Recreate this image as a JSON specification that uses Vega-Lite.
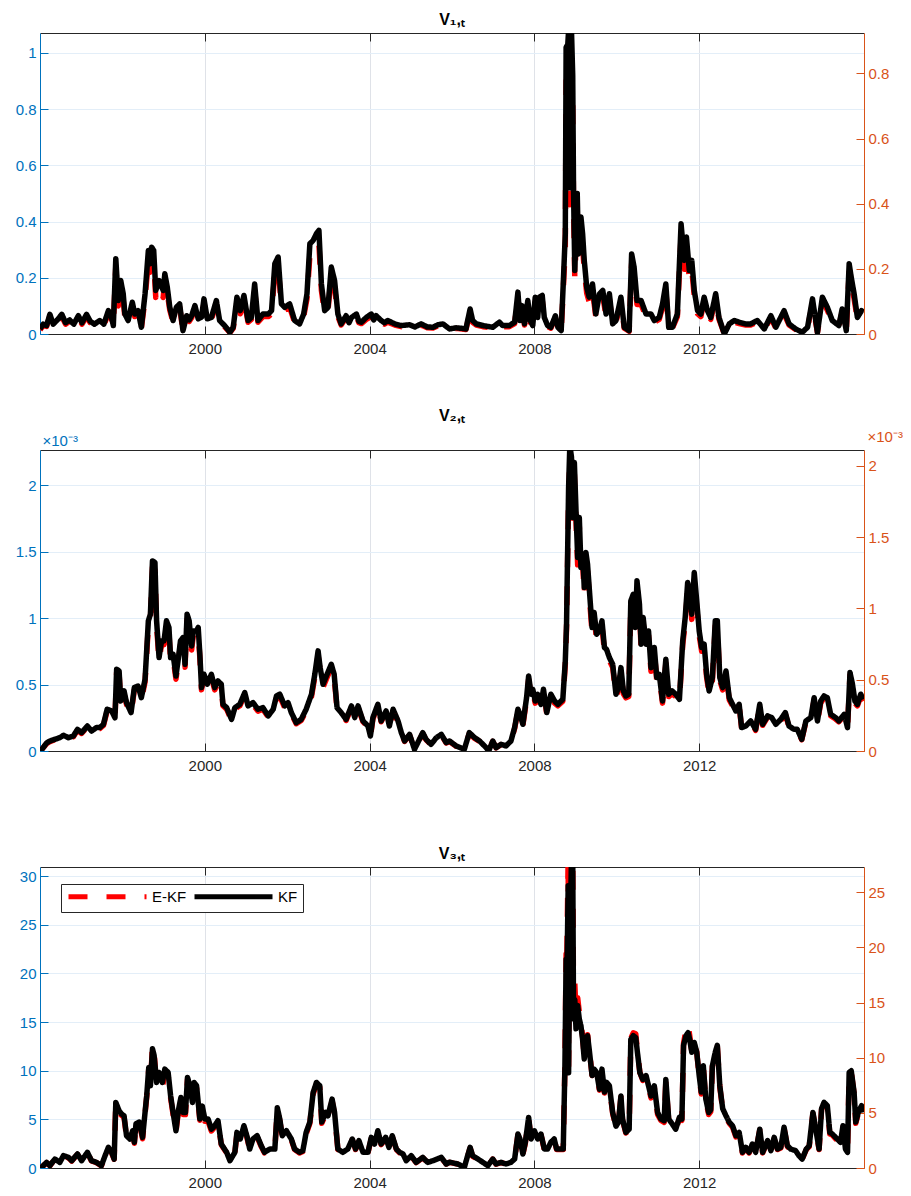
{
  "$schema": "https://vega.github.io/schema/vega-lite/v6.json",
  "autosize": {"type": "pad"},
  "padding": {"left": 15, "top": 11, "right": 0, "bottom": 0},
  "background": "white",
  "bounds": "flush",
  "spacing": 116,
  "config": {
    "font": "Liberation Sans",
    "view": {"stroke": null},
    "title": {"font": "Liberation Sans", "fontSize": 16, "fontWeight": "bold", "color": "#000000", "offset": 5, "anchor": "middle"},
    "axis": {"labelFont": "Liberation Sans", "labelFontSize": 15, "tickSize": -8, "tickWidth": 1, "domainWidth": 1, "labelPadding": 12, "titleFont": "Liberation Sans", "titleFontWeight": "normal", "titleFontSize": 15},
    "legend": {"labelFont": "Liberation Sans"}
  },
  "datasets": {
    "p1": [
      {"t":1996.00,"kf":0.018,"ekf":0.015},{"t":1996.08,"kf":0.035,"ekf":0.03},{"t":1996.16,"kf":0.03,"ekf":0.027},{"t":1996.24,"kf":0.07,"ekf":0.064},{"t":1996.32,"kf":0.035,"ekf":0.03},{"t":1996.42,"kf":0.05,"ekf":0.045},{"t":1996.53,"kf":0.07,"ekf":0.062},{"t":1996.62,"kf":0.04,"ekf":0.035},{"t":1996.72,"kf":0.05,"ekf":0.045},{"t":1996.82,"kf":0.035,"ekf":0.03},{"t":1996.93,"kf":0.065,"ekf":0.058},{"t":1997.02,"kf":0.04,"ekf":0.035},{"t":1997.13,"kf":0.07,"ekf":0.062},{"t":1997.22,"kf":0.045,"ekf":0.04},{"t":1997.32,"kf":0.035,"ekf":0.03},{"t":1997.45,"kf":0.048,"ekf":0.042},{"t":1997.55,"kf":0.035,"ekf":0.03},{"t":1997.66,"kf":0.083,"ekf":0.075},{"t":1997.72,"kf":0.07,"ekf":0.06},{"t":1997.78,"kf":0.03,"ekf":0.026},{"t":1997.84,"kf":0.268,"ekf":0.24},{"t":1997.90,"kf":0.119,"ekf":0.1},{"t":1997.96,"kf":0.19,"ekf":0.165},{"t":1998.02,"kf":0.143,"ekf":0.12},{"t":1998.06,"kf":0.071,"ekf":0.06},{"t":1998.14,"kf":0.048,"ekf":0.04},{"t":1998.24,"kf":0.113,"ekf":0.1},{"t":1998.30,"kf":0.071,"ekf":0.062},{"t":1998.38,"kf":0.083,"ekf":0.072},{"t":1998.46,"kf":0.024,"ekf":0.02},{"t":1998.55,"kf":0.143,"ekf":0.125},{"t":1998.63,"kf":0.297,"ekf":0.26},{"t":1998.67,"kf":0.25,"ekf":0.22},{"t":1998.71,"kf":0.309,"ekf":0.27},{"t":1998.76,"kf":0.297,"ekf":0.26},{"t":1998.81,"kf":0.155,"ekf":0.13},{"t":1998.89,"kf":0.19,"ekf":0.165},{"t":1998.99,"kf":0.155,"ekf":0.13},{"t":1999.03,"kf":0.214,"ekf":0.19},{"t":1999.09,"kf":0.166,"ekf":0.145},{"t":1999.15,"kf":0.095,"ekf":0.085},{"t":1999.23,"kf":0.048,"ekf":0.042},{"t":1999.31,"kf":0.095,"ekf":0.085},{"t":1999.39,"kf":0.107,"ekf":0.095},{"t":1999.47,"kf":0.012,"ekf":0.01},{"t":1999.56,"kf":0.065,"ekf":0.058},{"t":1999.62,"kf":0.05,"ekf":0.045},{"t":1999.68,"kf":0.065,"ekf":0.058},{"t":1999.76,"kf":0.101,"ekf":0.09},{"t":1999.84,"kf":0.054,"ekf":0.048},{"t":1999.92,"kf":0.06,"ekf":0.054},{"t":1999.98,"kf":0.125,"ekf":0.11},{"t":2000.06,"kf":0.054,"ekf":0.048},{"t":2000.16,"kf":0.059,"ekf":0.052},{"t":2000.28,"kf":0.119,"ekf":0.105},{"t":2000.36,"kf":0.048,"ekf":0.042},{"t":2000.48,"kf":0.03,"ekf":0.026},{"t":2000.61,"kf":0.006,"ekf":0.005},{"t":2000.69,"kf":0.024,"ekf":0.02},{"t":2000.78,"kf":0.131,"ekf":0.115},{"t":2000.86,"kf":0.083,"ekf":0.072},{"t":2000.95,"kf":0.137,"ekf":0.12},{"t":2001.05,"kf":0.048,"ekf":0.042},{"t":2001.13,"kf":0.059,"ekf":0.052},{"t":2001.21,"kf":0.178,"ekf":0.155},{"t":2001.29,"kf":0.048,"ekf":0.042},{"t":2001.41,"kf":0.071,"ekf":0.062},{"t":2001.54,"kf":0.071,"ekf":0.062},{"t":2001.62,"kf":0.083,"ekf":0.072},{"t":2001.70,"kf":0.25,"ekf":0.22},{"t":2001.78,"kf":0.274,"ekf":0.24},{"t":2001.86,"kf":0.107,"ekf":0.095},{"t":2001.94,"kf":0.095,"ekf":0.085},{"t":2002.06,"kf":0.107,"ekf":0.095},{"t":2002.18,"kf":0.048,"ekf":0.042},{"t":2002.30,"kf":0.036,"ekf":0.032},{"t":2002.40,"kf":0.071,"ekf":0.062},{"t":2002.48,"kf":0.143,"ekf":0.125},{"t":2002.55,"kf":0.321,"ekf":0.28},{"t":2002.63,"kf":0.333,"ekf":0.29},{"t":2002.71,"kf":0.357,"ekf":0.31},{"t":2002.77,"kf":0.369,"ekf":0.32},{"t":2002.83,"kf":0.178,"ekf":0.155},{"t":2002.91,"kf":0.083,"ekf":0.072},{"t":2002.99,"kf":0.095,"ekf":0.085},{"t":2003.07,"kf":0.238,"ekf":0.21},{"t":2003.15,"kf":0.19,"ekf":0.165},{"t":2003.23,"kf":0.071,"ekf":0.062},{"t":2003.31,"kf":0.036,"ekf":0.032},{"t":2003.43,"kf":0.065,"ekf":0.058},{"t":2003.50,"kf":0.04,"ekf":0.035},{"t":2003.56,"kf":0.059,"ekf":0.052},{"t":2003.68,"kf":0.071,"ekf":0.062},{"t":2003.74,"kf":0.045,"ekf":0.04},{"t":2003.80,"kf":0.042,"ekf":0.037},{"t":2003.92,"kf":0.059,"ekf":0.052},{"t":2004.04,"kf":0.071,"ekf":0.062},{"t":2004.10,"kf":0.05,"ekf":0.045},{"t":2004.16,"kf":0.065,"ekf":0.058},{"t":2004.28,"kf":0.048,"ekf":0.042},{"t":2004.36,"kf":0.04,"ekf":0.035},{"t":2004.44,"kf":0.048,"ekf":0.042},{"t":2004.61,"kf":0.036,"ekf":0.032},{"t":2004.77,"kf":0.03,"ekf":0.026},{"t":2004.97,"kf":0.033,"ekf":0.029},{"t":2005.10,"kf":0.025,"ekf":0.022},{"t":2005.25,"kf":0.036,"ekf":0.032},{"t":2005.40,"kf":0.025,"ekf":0.022},{"t":2005.54,"kf":0.024,"ekf":0.021},{"t":2005.66,"kf":0.033,"ekf":0.029},{"t":2005.78,"kf":0.036,"ekf":0.032},{"t":2005.94,"kf":0.018,"ekf":0.016},
      {"t":2006.10,"kf":0.022,"ekf":0.02},{"t":2006.25,"kf":0.02,"ekf":0.018},{"t":2006.34,"kf":0.018,"ekf":0.016},{"t":2006.38,"kf":0.048,"ekf":0.042},{"t":2006.44,"kf":0.089,"ekf":0.08},{"t":2006.50,"kf":0.048,"ekf":0.042},{"t":2006.59,"kf":0.036,"ekf":0.032},{"t":2006.75,"kf":0.03,"ekf":0.026},{"t":2006.99,"kf":0.024,"ekf":0.021},{"t":2007.15,"kf":0.042,"ekf":0.037},{"t":2007.23,"kf":0.03,"ekf":0.026},{"t":2007.39,"kf":0.03,"ekf":0.026},{"t":2007.52,"kf":0.042,"ekf":0.037},{"t":2007.56,"kf":0.095,"ekf":0.085},{"t":2007.60,"kf":0.149,"ekf":0.13},{"t":2007.65,"kf":0.048,"ekf":0.042},{"t":2007.70,"kf":0.101,"ekf":0.09},{"t":2007.76,"kf":0.036,"ekf":0.032},{"t":2007.84,"kf":0.119,"ekf":0.105},{"t":2007.90,"kf":0.048,"ekf":0.042},{"t":2007.96,"kf":0.03,"ekf":0.026},{"t":2008.02,"kf":0.131,"ekf":0.115},{"t":2008.08,"kf":0.059,"ekf":0.052},{"t":2008.12,"kf":0.131,"ekf":0.115},{"t":2008.19,"kf":0.137,"ekf":0.12},{"t":2008.24,"kf":0.059,"ekf":0.052},{"t":2008.32,"kf":0.03,"ekf":0.026},{"t":2008.40,"kf":0.024,"ekf":0.021},{"t":2008.51,"kf":0.065,"ekf":0.058},{"t":2008.57,"kf":0.024,"ekf":0.021},{"t":2008.65,"kf":0.012,"ekf":0.01},{"t":2008.70,"kf":0.178,"ekf":0.155},{"t":2008.75,"kf":0.357,"ekf":0.31},{"t":2008.77,"kf":1.02,"ekf":0.9},{"t":2008.81,"kf":1.03,"ekf":0.92},{"t":2008.83,"kf":1.08,"ekf":0.95},{"t":2008.86,"kf":0.52,"ekf":0.46},{"t":2008.90,"kf":1.08,"ekf":0.95},{"t":2008.93,"kf":0.92,"ekf":0.82},{"t":2008.95,"kf":0.51,"ekf":0.45},{"t":2008.98,"kf":0.226,"ekf":0.2},{"t":2009.01,"kf":0.357,"ekf":0.31},{"t":2009.04,"kf":0.5,"ekf":0.44},{"t":2009.07,"kf":0.285,"ekf":0.25},{"t":2009.13,"kf":0.416,"ekf":0.37},{"t":2009.17,"kf":0.357,"ekf":0.31},{"t":2009.21,"kf":0.262,"ekf":0.23},{"t":2009.27,"kf":0.166,"ekf":0.145},{"t":2009.33,"kf":0.131,"ekf":0.115},{"t":2009.41,"kf":0.178,"ekf":0.155},{"t":2009.49,"kf":0.071,"ekf":0.062},{"t":2009.58,"kf":0.143,"ekf":0.125},{"t":2009.66,"kf":0.155,"ekf":0.135},{"t":2009.74,"kf":0.071,"ekf":0.062},{"t":2009.82,"kf":0.143,"ekf":0.125},{"t":2009.90,"kf":0.036,"ekf":0.032},{"t":2009.98,"kf":0.048,"ekf":0.042},{"t":2010.10,"kf":0.131,"ekf":0.115},{"t":2010.18,"kf":0.024,"ekf":0.021},{"t":2010.30,"kf":0.012,"ekf":0.01},{"t":2010.36,"kf":0.285,"ekf":0.25},{"t":2010.42,"kf":0.238,"ekf":0.21},{"t":2010.49,"kf":0.119,"ekf":0.105},{"t":2010.59,"kf":0.119,"ekf":0.105},{"t":2010.71,"kf":0.071,"ekf":0.062},{"t":2010.83,"kf":0.071,"ekf":0.062},{"t":2010.91,"kf":0.048,"ekf":0.042},{"t":2011.03,"kf":0.059,"ekf":0.052},{"t":2011.11,"kf":0.107,"ekf":0.095},{"t":2011.19,"kf":0.178,"ekf":0.155},{"t":2011.26,"kf":0.024,"ekf":0.021},{"t":2011.35,"kf":0.024,"ekf":0.021},{"t":2011.47,"kf":0.071,"ekf":0.062},{"t":2011.56,"kf":0.392,"ekf":0.35},{"t":2011.64,"kf":0.262,"ekf":0.23},{"t":2011.69,"kf":0.345,"ekf":0.3},{"t":2011.76,"kf":0.226,"ekf":0.2},{"t":2011.82,"kf":0.262,"ekf":0.23},{"t":2011.88,"kf":0.155,"ekf":0.135},{"t":2011.96,"kf":0.083,"ekf":0.072},{"t":2012.04,"kf":0.071,"ekf":0.062},{"t":2012.12,"kf":0.131,"ekf":0.115},{"t":2012.20,"kf":0.083,"ekf":0.072},{"t":2012.28,"kf":0.059,"ekf":0.052},{"t":2012.40,"kf":0.143,"ekf":0.125},{"t":2012.48,"kf":0.059,"ekf":0.052},{"t":2012.61,"kf":0.0,"ekf":0.0},{"t":2012.73,"kf":0.036,"ekf":0.032},{"t":2012.85,"kf":0.048,"ekf":0.042},{"t":2012.97,"kf":0.042,"ekf":0.037},{"t":2013.13,"kf":0.036,"ekf":0.032},{"t":2013.25,"kf":0.036,"ekf":0.032},{"t":2013.41,"kf":0.048,"ekf":0.042},{"t":2013.58,"kf":0.018,"ekf":0.016},{"t":2013.74,"kf":0.065,"ekf":0.058},{"t":2013.86,"kf":0.024,"ekf":0.021},{"t":2014.06,"kf":0.083,"ekf":0.072},{"t":2014.18,"kf":0.036,"ekf":0.032},{"t":2014.34,"kf":0.018,"ekf":0.016},{"t":2014.50,"kf":0.006,"ekf":0.005},{"t":2014.63,"kf":0.024,"ekf":0.021},{"t":2014.75,"kf":0.125,"ekf":0.11},{"t":2014.87,"kf":0.006,"ekf":0.005},{"t":2014.99,"kf":0.131,"ekf":0.115},{"t":2015.11,"kf":0.095,"ekf":0.085},{"t":2015.23,"kf":0.048,"ekf":0.042},{"t":2015.39,"kf":0.03,"ekf":0.026},{"t":2015.47,"kf":0.089,"ekf":0.08},{"t":2015.57,"kf":0.012,"ekf":0.01},{"t":2015.64,"kf":0.25,"ekf":0.22},{"t":2015.69,"kf":0.202,"ekf":0.18},{"t":2015.76,"kf":0.143,"ekf":0.125},{"t":2015.84,"kf":0.059,"ekf":0.052},{"t":2015.94,"kf":0.083,"ekf":0.072},{"t":2015.98,"kf":0.077,"ekf":0.068}
    ],
    "p2": [
      {"t":1996.00,"kf":0.02e-3,"ekf":0.02e-3},{"t":1996.04,"kf":0.01e-3,"ekf":0.01e-3},{"t":1996.16,"kf":0.06e-3,"ekf":0.055e-3},{"t":1996.24,"kf":0.075e-3,"ekf":0.07e-3},{"t":1996.36,"kf":0.088e-3,"ekf":0.085e-3},{"t":1996.48,"kf":0.1e-3,"ekf":0.095e-3},{"t":1996.57,"kf":0.118e-3,"ekf":0.112e-3},{"t":1996.69,"kf":0.1e-3,"ekf":0.095e-3},{"t":1996.81,"kf":0.113e-3,"ekf":0.108e-3},{"t":1996.91,"kf":0.163e-3,"ekf":0.156e-3},{"t":1997.01,"kf":0.138e-3,"ekf":0.132e-3},{"t":1997.15,"kf":0.188e-3,"ekf":0.18e-3},{"t":1997.25,"kf":0.15e-3,"ekf":0.144e-3},{"t":1997.37,"kf":0.176e-3,"ekf":0.169e-3},{"t":1997.45,"kf":0.176e-3,"ekf":0.169e-3},{"t":1997.54,"kf":0.2e-3,"ekf":0.192e-3},{"t":1997.63,"kf":0.314e-3,"ekf":0.3e-3},{"t":1997.74,"kf":0.301e-3,"ekf":0.29e-3},{"t":1997.82,"kf":0.25e-3,"ekf":0.24e-3},{"t":1997.86,"kf":0.615e-3,"ekf":0.59e-3},{"t":1997.92,"kf":0.602e-3,"ekf":0.58e-3},{"t":1997.96,"kf":0.376e-3,"ekf":0.36e-3},{"t":1998.04,"kf":0.452e-3,"ekf":0.43e-3},{"t":1998.10,"kf":0.364e-3,"ekf":0.35e-3},{"t":1998.21,"kf":0.289e-3,"ekf":0.28e-3},{"t":1998.29,"kf":0.477e-3,"ekf":0.46e-3},{"t":1998.38,"kf":0.489e-3,"ekf":0.47e-3},{"t":1998.46,"kf":0.401e-3,"ekf":0.385e-3},{"t":1998.55,"kf":0.539e-3,"ekf":0.52e-3},{"t":1998.63,"kf":0.979e-3,"ekf":0.94e-3},{"t":1998.68,"kf":1.029e-3,"ekf":0.99e-3},{"t":1998.73,"kf":1.43e-3,"ekf":1.38e-3},{"t":1998.79,"kf":1.418e-3,"ekf":1.36e-3},{"t":1998.83,"kf":0.979e-3,"ekf":0.94e-3},{"t":1998.89,"kf":0.703e-3,"ekf":0.68e-3},{"t":1998.95,"kf":0.828e-3,"ekf":0.8e-3},{"t":1999.01,"kf":0.828e-3,"ekf":0.8e-3},{"t":1999.07,"kf":0.979e-3,"ekf":0.94e-3},{"t":1999.13,"kf":0.929e-3,"ekf":0.89e-3},{"t":1999.17,"kf":0.703e-3,"ekf":0.68e-3},{"t":1999.23,"kf":0.728e-3,"ekf":0.7e-3},{"t":1999.30,"kf":0.564e-3,"ekf":0.54e-3},{"t":1999.35,"kf":0.678e-3,"ekf":0.65e-3},{"t":1999.41,"kf":0.828e-3,"ekf":0.8e-3},{"t":1999.47,"kf":0.853e-3,"ekf":0.82e-3},{"t":1999.52,"kf":0.652e-3,"ekf":0.63e-3},{"t":1999.57,"kf":1.029e-3,"ekf":0.99e-3},{"t":1999.62,"kf":0.979e-3,"ekf":0.94e-3},{"t":1999.68,"kf":0.79e-3,"ekf":0.76e-3},{"t":1999.72,"kf":0.903e-3,"ekf":0.87e-3},{"t":1999.80,"kf":0.903e-3,"ekf":0.87e-3},{"t":1999.84,"kf":0.929e-3,"ekf":0.89e-3},{"t":1999.88,"kf":0.728e-3,"ekf":0.7e-3},{"t":1999.92,"kf":0.477e-3,"ekf":0.46e-3},{"t":1999.98,"kf":0.577e-3,"ekf":0.555e-3},{"t":2000.06,"kf":0.502e-3,"ekf":0.48e-3},{"t":2000.16,"kf":0.577e-3,"ekf":0.555e-3},{"t":2000.24,"kf":0.477e-3,"ekf":0.46e-3},{"t":2000.32,"kf":0.527e-3,"ekf":0.505e-3},{"t":2000.40,"kf":0.502e-3,"ekf":0.48e-3},{"t":2000.44,"kf":0.351e-3,"ekf":0.34e-3},{"t":2000.53,"kf":0.326e-3,"ekf":0.315e-3},{"t":2000.65,"kf":0.238e-3,"ekf":0.23e-3},{"t":2000.73,"kf":0.326e-3,"ekf":0.315e-3},{"t":2000.85,"kf":0.351e-3,"ekf":0.34e-3},{"t":2000.97,"kf":0.439e-3,"ekf":0.42e-3},{"t":2001.05,"kf":0.339e-3,"ekf":0.325e-3},{"t":2001.17,"kf":0.364e-3,"ekf":0.35e-3},{"t":2001.29,"kf":0.314e-3,"ekf":0.3e-3},{"t":2001.41,"kf":0.326e-3,"ekf":0.315e-3},{"t":2001.54,"kf":0.264e-3,"ekf":0.255e-3},{"t":2001.66,"kf":0.314e-3,"ekf":0.3e-3},{"t":2001.74,"kf":0.414e-3,"ekf":0.4e-3},{"t":2001.82,"kf":0.427e-3,"ekf":0.41e-3},{"t":2001.94,"kf":0.339e-3,"ekf":0.325e-3},{"t":2002.02,"kf":0.364e-3,"ekf":0.35e-3},{"t":2002.10,"kf":0.289e-3,"ekf":0.28e-3},{"t":2002.22,"kf":0.213e-3,"ekf":0.205e-3},{"t":2002.34,"kf":0.238e-3,"ekf":0.23e-3},{"t":2002.46,"kf":0.314e-3,"ekf":0.3e-3},{"t":2002.59,"kf":0.427e-3,"ekf":0.41e-3},{"t":2002.67,"kf":0.577e-3,"ekf":0.555e-3},{"t":2002.75,"kf":0.753e-3,"ekf":0.72e-3},{"t":2002.80,"kf":0.627e-3,"ekf":0.6e-3},{"t":2002.87,"kf":0.502e-3,"ekf":0.48e-3},{"t":2002.95,"kf":0.564e-3,"ekf":0.54e-3},{"t":2003.07,"kf":0.652e-3,"ekf":0.63e-3},{"t":2003.14,"kf":0.577e-3,"ekf":0.555e-3},{"t":2003.21,"kf":0.326e-3,"ekf":0.315e-3},{"t":2003.31,"kf":0.289e-3,"ekf":0.28e-3},{"t":2003.43,"kf":0.238e-3,"ekf":0.23e-3},{"t":2003.56,"kf":0.339e-3,"ekf":0.325e-3},{"t":2003.64,"kf":0.251e-3,"ekf":0.24e-3},{"t":2003.72,"kf":0.339e-3,"ekf":0.325e-3},{"t":2003.84,"kf":0.226e-3,"ekf":0.22e-3},{"t":2003.96,"kf":0.188e-3,"ekf":0.18e-3},{"t":2004.02,"kf":0.113e-3,"ekf":0.108e-3},{"t":2004.08,"kf":0.251e-3,"ekf":0.24e-3},{"t":2004.20,"kf":0.351e-3,"ekf":0.34e-3},{"t":2004.28,"kf":0.226e-3,"ekf":0.22e-3},{"t":2004.40,"kf":0.301e-3,"ekf":0.29e-3},{"t":2004.48,"kf":0.188e-3,"ekf":0.18e-3},{"t":2004.57,"kf":0.314e-3,"ekf":0.3e-3},{"t":2004.69,"kf":0.226e-3,"ekf":0.22e-3},{"t":2004.77,"kf":0.138e-3,"ekf":0.132e-3},{"t":2004.85,"kf":0.075e-3,"ekf":0.072e-3},{"t":2004.97,"kf":0.125e-3,"ekf":0.12e-3},{"t":2005.09,"kf":0.013e-3,"ekf":0.012e-3},{"t":2005.17,"kf":0.063e-3,"ekf":0.06e-3},{"t":2005.29,"kf":0.138e-3,"ekf":0.132e-3},{"t":2005.37,"kf":0.088e-3,"ekf":0.085e-3},{"t":2005.49,"kf":0.05e-3,"ekf":0.048e-3},{"t":2005.62,"kf":0.1e-3,"ekf":0.095e-3},{"t":2005.74,"kf":0.125e-3,"ekf":0.12e-3},{"t":2005.86,"kf":0.063e-3,"ekf":0.06e-3},{"t":2005.94,"kf":0.075e-3,"ekf":0.072e-3},
      {"t":2006.10,"kf":0.038e-3,"ekf":0.036e-3},{"t":2006.30,"kf":0.013e-3,"ekf":0.012e-3},{"t":2006.42,"kf":0.138e-3,"ekf":0.132e-3},{"t":2006.55,"kf":0.1e-3,"ekf":0.095e-3},{"t":2006.67,"kf":0.075e-3,"ekf":0.072e-3},{"t":2006.83,"kf":0.025e-3,"ekf":0.024e-3},{"t":2006.89,"kf":0.0,"ekf":0.0},{"t":2006.99,"kf":0.075e-3,"ekf":0.072e-3},{"t":2007.07,"kf":0.025e-3,"ekf":0.024e-3},{"t":2007.19,"kf":0.05e-3,"ekf":0.048e-3},{"t":2007.31,"kf":0.038e-3,"ekf":0.036e-3},{"t":2007.43,"kf":0.075e-3,"ekf":0.072e-3},{"t":2007.52,"kf":0.176e-3,"ekf":0.169e-3},{"t":2007.60,"kf":0.314e-3,"ekf":0.3e-3},{"t":2007.65,"kf":0.276e-3,"ekf":0.265e-3},{"t":2007.72,"kf":0.201e-3,"ekf":0.193e-3},{"t":2007.81,"kf":0.401e-3,"ekf":0.385e-3},{"t":2007.86,"kf":0.564e-3,"ekf":0.54e-3},{"t":2007.92,"kf":0.427e-3,"ekf":0.41e-3},{"t":2007.96,"kf":0.464e-3,"ekf":0.445e-3},{"t":2008.02,"kf":0.376e-3,"ekf":0.36e-3},{"t":2008.08,"kf":0.427e-3,"ekf":0.41e-3},{"t":2008.16,"kf":0.351e-3,"ekf":0.34e-3},{"t":2008.22,"kf":0.464e-3,"ekf":0.445e-3},{"t":2008.30,"kf":0.289e-3,"ekf":0.28e-3},{"t":2008.40,"kf":0.427e-3,"ekf":0.41e-3},{"t":2008.49,"kf":0.376e-3,"ekf":0.36e-3},{"t":2008.57,"kf":0.351e-3,"ekf":0.34e-3},{"t":2008.69,"kf":0.389e-3,"ekf":0.375e-3},{"t":2008.75,"kf":0.678e-3,"ekf":0.65e-3},{"t":2008.78,"kf":0.953e-3,"ekf":0.92e-3},{"t":2008.83,"kf":1.98e-3,"ekf":1.9e-3},{"t":2008.86,"kf":2.3e-3,"ekf":2.2e-3},{"t":2008.90,"kf":2.21e-3,"ekf":2.12e-3},{"t":2008.93,"kf":1.756e-3,"ekf":1.69e-3},{"t":2008.97,"kf":2.17e-3,"ekf":2.08e-3},{"t":2009.01,"kf":1.807e-3,"ekf":1.73e-3},{"t":2009.05,"kf":1.456e-3,"ekf":1.4e-3},{"t":2009.09,"kf":1.756e-3,"ekf":1.69e-3},{"t":2009.13,"kf":1.38e-3,"ekf":1.32e-3},{"t":2009.17,"kf":1.481e-3,"ekf":1.42e-3},{"t":2009.21,"kf":1.23e-3,"ekf":1.18e-3},{"t":2009.25,"kf":1.493e-3,"ekf":1.43e-3},{"t":2009.29,"kf":1.405e-3,"ekf":1.35e-3},{"t":2009.33,"kf":1.23e-3,"ekf":1.18e-3},{"t":2009.40,"kf":0.929e-3,"ekf":0.89e-3},{"t":2009.45,"kf":1.041e-3,"ekf":1.0e-3},{"t":2009.51,"kf":0.878e-3,"ekf":0.84e-3},{"t":2009.58,"kf":0.903e-3,"ekf":0.87e-3},{"t":2009.64,"kf":0.979e-3,"ekf":0.94e-3},{"t":2009.70,"kf":0.778e-3,"ekf":0.75e-3},{"t":2009.75,"kf":0.765e-3,"ekf":0.735e-3},{"t":2009.82,"kf":0.703e-3,"ekf":0.68e-3},{"t":2009.90,"kf":0.652e-3,"ekf":0.63e-3},{"t":2009.98,"kf":0.427e-3,"ekf":0.41e-3},{"t":2010.04,"kf":0.477e-3,"ekf":0.46e-3},{"t":2010.10,"kf":0.627e-3,"ekf":0.6e-3},{"t":2010.16,"kf":0.452e-3,"ekf":0.43e-3},{"t":2010.22,"kf":0.414e-3,"ekf":0.4e-3},{"t":2010.29,"kf":0.427e-3,"ekf":0.41e-3},{"t":2010.34,"kf":1.129e-3,"ekf":1.08e-3},{"t":2010.40,"kf":1.179e-3,"ekf":1.13e-3},{"t":2010.45,"kf":0.929e-3,"ekf":0.89e-3},{"t":2010.49,"kf":1.28e-3,"ekf":1.23e-3},{"t":2010.55,"kf":1.104e-3,"ekf":1.06e-3},{"t":2010.59,"kf":0.803e-3,"ekf":0.77e-3},{"t":2010.64,"kf":1.004e-3,"ekf":0.96e-3},{"t":2010.71,"kf":0.803e-3,"ekf":0.77e-3},{"t":2010.77,"kf":0.903e-3,"ekf":0.87e-3},{"t":2010.83,"kf":0.627e-3,"ekf":0.6e-3},{"t":2010.91,"kf":0.778e-3,"ekf":0.75e-3},{"t":2010.97,"kf":0.552e-3,"ekf":0.53e-3},{"t":2011.03,"kf":0.577e-3,"ekf":0.555e-3},{"t":2011.11,"kf":0.376e-3,"ekf":0.36e-3},{"t":2011.19,"kf":0.69e-3,"ekf":0.66e-3},{"t":2011.26,"kf":0.427e-3,"ekf":0.41e-3},{"t":2011.34,"kf":0.452e-3,"ekf":0.43e-3},{"t":2011.43,"kf":0.427e-3,"ekf":0.41e-3},{"t":2011.52,"kf":0.389e-3,"ekf":0.375e-3},{"t":2011.60,"kf":0.828e-3,"ekf":0.8e-3},{"t":2011.66,"kf":1.004e-3,"ekf":0.96e-3},{"t":2011.72,"kf":1.267e-3,"ekf":1.22e-3},{"t":2011.77,"kf":1.205e-3,"ekf":1.16e-3},{"t":2011.82,"kf":1.029e-3,"ekf":0.99e-3},{"t":2011.88,"kf":1.343e-3,"ekf":1.29e-3},{"t":2011.94,"kf":1.129e-3,"ekf":1.08e-3},{"t":2012.00,"kf":0.903e-3,"ekf":0.87e-3},{"t":2012.06,"kf":0.778e-3,"ekf":0.75e-3},{"t":2012.12,"kf":0.803e-3,"ekf":0.77e-3},{"t":2012.18,"kf":0.577e-3,"ekf":0.555e-3},{"t":2012.24,"kf":0.452e-3,"ekf":0.43e-3},{"t":2012.32,"kf":0.552e-3,"ekf":0.53e-3},{"t":2012.39,"kf":0.979e-3,"ekf":0.94e-3},{"t":2012.44,"kf":0.979e-3,"ekf":0.94e-3},{"t":2012.50,"kf":0.552e-3,"ekf":0.53e-3},{"t":2012.57,"kf":0.477e-3,"ekf":0.46e-3},{"t":2012.65,"kf":0.602e-3,"ekf":0.58e-3},{"t":2012.73,"kf":0.401e-3,"ekf":0.385e-3},{"t":2012.81,"kf":0.351e-3,"ekf":0.34e-3},{"t":2012.89,"kf":0.301e-3,"ekf":0.29e-3},{"t":2012.97,"kf":0.351e-3,"ekf":0.34e-3},{"t":2013.03,"kf":0.176e-3,"ekf":0.169e-3},{"t":2013.13,"kf":0.188e-3,"ekf":0.18e-3},{"t":2013.25,"kf":0.226e-3,"ekf":0.22e-3},{"t":2013.37,"kf":0.163e-3,"ekf":0.156e-3},{"t":2013.47,"kf":0.351e-3,"ekf":0.34e-3},{"t":2013.54,"kf":0.201e-3,"ekf":0.193e-3},{"t":2013.66,"kf":0.264e-3,"ekf":0.255e-3},{"t":2013.76,"kf":0.251e-3,"ekf":0.24e-3},{"t":2013.86,"kf":0.201e-3,"ekf":0.193e-3},{"t":2013.98,"kf":0.238e-3,"ekf":0.23e-3},{"t":2014.09,"kf":0.289e-3,"ekf":0.28e-3},{"t":2014.18,"kf":0.188e-3,"ekf":0.18e-3},{"t":2014.30,"kf":0.163e-3,"ekf":0.156e-3},{"t":2014.38,"kf":0.163e-3,"ekf":0.156e-3},{"t":2014.49,"kf":0.088e-3,"ekf":0.085e-3},{"t":2014.59,"kf":0.226e-3,"ekf":0.22e-3},{"t":2014.71,"kf":0.251e-3,"ekf":0.24e-3},{"t":2014.79,"kf":0.401e-3,"ekf":0.385e-3},{"t":2014.87,"kf":0.226e-3,"ekf":0.22e-3},{"t":2014.95,"kf":0.376e-3,"ekf":0.36e-3},{"t":2015.03,"kf":0.414e-3,"ekf":0.4e-3},{"t":2015.11,"kf":0.401e-3,"ekf":0.385e-3},{"t":2015.19,"kf":0.276e-3,"ekf":0.265e-3},{"t":2015.31,"kf":0.251e-3,"ekf":0.24e-3},{"t":2015.39,"kf":0.226e-3,"ekf":0.22e-3},{"t":2015.52,"kf":0.276e-3,"ekf":0.265e-3},{"t":2015.60,"kf":0.176e-3,"ekf":0.169e-3},{"t":2015.66,"kf":0.59e-3,"ekf":0.57e-3},{"t":2015.72,"kf":0.502e-3,"ekf":0.48e-3},{"t":2015.78,"kf":0.376e-3,"ekf":0.36e-3},{"t":2015.84,"kf":0.351e-3,"ekf":0.34e-3},{"t":2015.92,"kf":0.427e-3,"ekf":0.41e-3},{"t":2015.98,"kf":0.389e-3,"ekf":0.375e-3}
    ],
    "p3": [
      {"t":1996.00,"kf":0.2,"ekf":0.2},{"t":1996.04,"kf":0.07,"ekf":0.07},{"t":1996.16,"kf":0.58,"ekf":0.55},{"t":1996.24,"kf":0.24,"ekf":0.22},{"t":1996.36,"kf":0.92,"ekf":0.9},{"t":1996.48,"kf":0.58,"ekf":0.55},{"t":1996.57,"kf":1.27,"ekf":1.2},{"t":1996.69,"kf":1.09,"ekf":1.05},{"t":1996.77,"kf":0.75,"ekf":0.72},{"t":1996.91,"kf":1.44,"ekf":1.4},{"t":1997.01,"kf":0.75,"ekf":0.72},{"t":1997.15,"kf":1.61,"ekf":1.55},{"t":1997.25,"kf":0.75,"ekf":0.72},{"t":1997.37,"kf":0.58,"ekf":0.55},{"t":1997.49,"kf":0.24,"ekf":0.22},{"t":1997.58,"kf":1.27,"ekf":1.2},{"t":1997.66,"kf":2.12,"ekf":2.05},{"t":1997.74,"kf":1.61,"ekf":1.55},{"t":1997.80,"kf":0.92,"ekf":0.9},{"t":1997.84,"kf":6.74,"ekf":6.6},{"t":1997.92,"kf":5.88,"ekf":5.7},{"t":1997.98,"kf":5.54,"ekf":5.4},{"t":1998.04,"kf":5.37,"ekf":5.2},{"t":1998.10,"kf":3.32,"ekf":3.2},{"t":1998.18,"kf":2.98,"ekf":2.9},{"t":1998.25,"kf":3.83,"ekf":3.7},{"t":1998.29,"kf":2.64,"ekf":2.55},{"t":1998.33,"kf":4.55,"ekf":4.4},{"t":1998.41,"kf":4.72,"ekf":4.6},{"t":1998.49,"kf":3.15,"ekf":3.0},{"t":1998.59,"kf":7.42,"ekf":7.3},{"t":1998.64,"kf":10.33,"ekf":10.2},{"t":1998.68,"kf":8.45,"ekf":8.4},{"t":1998.73,"kf":12.25,"ekf":12.6},{"t":1998.77,"kf":11.56,"ekf":11.8},{"t":1998.83,"kf":8.79,"ekf":8.5},{"t":1998.89,"kf":9.82,"ekf":8.4},{"t":1998.97,"kf":8.79,"ekf":8.2},{"t":1999.03,"kf":10.16,"ekf":9.8},{"t":1999.11,"kf":9.82,"ekf":9.5},{"t":1999.17,"kf":7.42,"ekf":7.2},{"t":1999.23,"kf":5.71,"ekf":5.5},{"t":1999.30,"kf":3.83,"ekf":3.7},{"t":1999.35,"kf":5.71,"ekf":5.5},{"t":1999.42,"kf":7.25,"ekf":7.0},{"t":1999.47,"kf":5.71,"ekf":5.5},{"t":1999.53,"kf":5.71,"ekf":5.5},{"t":1999.58,"kf":9.3,"ekf":9.1},{"t":1999.64,"kf":8.45,"ekf":8.2},{"t":1999.70,"kf":6.74,"ekf":6.6},{"t":1999.74,"kf":8.79,"ekf":8.6},{"t":1999.80,"kf":8.45,"ekf":8.2},{"t":1999.84,"kf":6.74,"ekf":6.6},{"t":1999.88,"kf":5.03,"ekf":4.9},{"t":1999.94,"kf":6.36,"ekf":6.2},{"t":2000.00,"kf":5.03,"ekf":4.8},{"t":2000.08,"kf":5.03,"ekf":4.8},{"t":2000.16,"kf":3.99,"ekf":3.8},{"t":2000.24,"kf":4.34,"ekf":4.2},{"t":2000.32,"kf":4.86,"ekf":4.7},{"t":2000.40,"kf":2.46,"ekf":2.4},{"t":2000.53,"kf":1.61,"ekf":1.55},{"t":2000.61,"kf":0.75,"ekf":0.72},{"t":2000.73,"kf":1.61,"ekf":1.55},{"t":2000.78,"kf":3.66,"ekf":3.5},{"t":2000.86,"kf":2.98,"ekf":2.9},{"t":2000.95,"kf":4.34,"ekf":4.2},{"t":2001.03,"kf":3.15,"ekf":3.0},{"t":2001.09,"kf":1.95,"ekf":1.9},{"t":2001.17,"kf":2.98,"ekf":2.9},{"t":2001.27,"kf":3.32,"ekf":3.2},{"t":2001.37,"kf":2.29,"ekf":2.2},{"t":2001.45,"kf":1.61,"ekf":1.55},{"t":2001.58,"kf":1.95,"ekf":1.9},{"t":2001.70,"kf":1.95,"ekf":1.9},{"t":2001.76,"kf":6.19,"ekf":6.0},{"t":2001.82,"kf":5.03,"ekf":4.9},{"t":2001.88,"kf":3.32,"ekf":3.2},{"t":2001.98,"kf":3.83,"ekf":3.7},{"t":2002.10,"kf":2.98,"ekf":2.9},{"t":2002.18,"kf":1.95,"ekf":1.9},{"t":2002.30,"kf":1.61,"ekf":1.55},{"t":2002.38,"kf":1.78,"ekf":1.7},{"t":2002.46,"kf":3.66,"ekf":3.5},{"t":2002.55,"kf":4.72,"ekf":4.6},{"t":2002.63,"kf":7.76,"ekf":7.6},{"t":2002.71,"kf":8.79,"ekf":8.6},{"t":2002.79,"kf":8.45,"ekf":8.3},{"t":2002.84,"kf":4.72,"ekf":4.6},{"t":2002.93,"kf":5.71,"ekf":5.5},{"t":2002.99,"kf":5.37,"ekf":5.2},{"t":2003.09,"kf":7.08,"ekf":6.9},{"t":2003.15,"kf":5.71,"ekf":5.5},{"t":2003.23,"kf":1.95,"ekf":1.9},{"t":2003.35,"kf":1.61,"ekf":1.55},{"t":2003.47,"kf":1.95,"ekf":1.9},{"t":2003.58,"kf":2.98,"ekf":2.9},{"t":2003.66,"kf":1.95,"ekf":1.9},{"t":2003.74,"kf":2.81,"ekf":2.7},{"t":2003.84,"kf":1.61,"ekf":1.55},{"t":2003.96,"kf":1.61,"ekf":1.55},{"t":2004.04,"kf":3.15,"ekf":3.0},{"t":2004.12,"kf":2.46,"ekf":2.4},{"t":2004.20,"kf":3.83,"ekf":3.7},{"t":2004.28,"kf":2.46,"ekf":2.4},{"t":2004.39,"kf":3.15,"ekf":3.0},{"t":2004.47,"kf":2.12,"ekf":2.05},{"t":2004.55,"kf":3.32,"ekf":3.2},{"t":2004.65,"kf":1.95,"ekf":1.9},{"t":2004.73,"kf":1.61,"ekf":1.55},{"t":2004.81,"kf":1.44,"ekf":1.4},{"t":2004.89,"kf":0.75,"ekf":0.72},{"t":2005.01,"kf":1.27,"ekf":1.2},{"t":2005.13,"kf":0.58,"ekf":0.55},{"t":2005.29,"kf":1.09,"ekf":1.05},{"t":2005.41,"kf":0.58,"ekf":0.55},{"t":2005.54,"kf":0.75,"ekf":0.72},{"t":2005.74,"kf":1.09,"ekf":1.05},{"t":2005.86,"kf":0.41,"ekf":0.4},{"t":2005.94,"kf":0.6,"ekf":0.58},
      {"t":2006.14,"kf":0.41,"ekf":0.4},{"t":2006.30,"kf":0.07,"ekf":0.07},{"t":2006.38,"kf":1.27,"ekf":1.2},{"t":2006.44,"kf":2.12,"ekf":2.05},{"t":2006.50,"kf":1.27,"ekf":1.2},{"t":2006.63,"kf":0.92,"ekf":0.9},{"t":2006.75,"kf":0.58,"ekf":0.55},{"t":2006.87,"kf":0.24,"ekf":0.22},{"t":2006.99,"kf":0.92,"ekf":0.9},{"t":2007.07,"kf":0.41,"ekf":0.4},{"t":2007.19,"kf":0.58,"ekf":0.55},{"t":2007.31,"kf":0.41,"ekf":0.4},{"t":2007.43,"kf":0.58,"ekf":0.55},{"t":2007.52,"kf":0.92,"ekf":0.9},{"t":2007.60,"kf":3.49,"ekf":3.4},{"t":2007.65,"kf":2.98,"ekf":2.9},{"t":2007.72,"kf":1.44,"ekf":1.4},{"t":2007.78,"kf":2.64,"ekf":2.55},{"t":2007.86,"kf":5.2,"ekf":5.1},{"t":2007.92,"kf":2.98,"ekf":2.9},{"t":2008.00,"kf":3.83,"ekf":3.7},{"t":2008.08,"kf":2.98,"ekf":2.9},{"t":2008.16,"kf":3.49,"ekf":3.4},{"t":2008.24,"kf":1.95,"ekf":1.9},{"t":2008.32,"kf":1.95,"ekf":1.9},{"t":2008.40,"kf":2.64,"ekf":2.55},{"t":2008.48,"kf":2.98,"ekf":2.9},{"t":2008.54,"kf":1.95,"ekf":1.9},{"t":2008.65,"kf":1.95,"ekf":1.9},{"t":2008.70,"kf":1.95,"ekf":1.9},{"t":2008.74,"kf":10.16,"ekf":10.5},{"t":2008.77,"kf":21.45,"ekf":22.0},{"t":2008.78,"kf":17.0,"ekf":19.0},{"t":2008.82,"kf":29.0,"ekf":32.0},{"t":2008.83,"kf":9.8,"ekf":10.5},{"t":2008.86,"kf":22.0,"ekf":26.0},{"t":2008.90,"kf":32.0,"ekf":32.0},{"t":2008.93,"kf":32.0,"ekf":32.0},{"t":2008.95,"kf":15.3,"ekf":17.0},{"t":2008.98,"kf":17.3,"ekf":19.0},{"t":2009.01,"kf":14.3,"ekf":16.0},{"t":2009.05,"kf":16.7,"ekf":17.5},{"t":2009.09,"kf":15.3,"ekf":16.0},{"t":2009.13,"kf":14.6,"ekf":14.9},{"t":2009.17,"kf":13.2,"ekf":13.5},{"t":2009.21,"kf":11.2,"ekf":11.4},{"t":2009.25,"kf":12.5,"ekf":12.7},{"t":2009.29,"kf":13.6,"ekf":13.7},{"t":2009.33,"kf":12.2,"ekf":12.3},{"t":2009.40,"kf":9.5,"ekf":9.5},{"t":2009.45,"kf":10.16,"ekf":10.1},{"t":2009.51,"kf":9.82,"ekf":9.7},{"t":2009.58,"kf":8.1,"ekf":8.0},{"t":2009.64,"kf":10.16,"ekf":10.0},{"t":2009.70,"kf":7.8,"ekf":7.7},{"t":2009.75,"kf":8.8,"ekf":8.7},{"t":2009.82,"kf":8.45,"ekf":8.3},{"t":2009.90,"kf":5.7,"ekf":5.6},{"t":2009.98,"kf":4.3,"ekf":4.2},{"t":2010.04,"kf":4.7,"ekf":4.6},{"t":2010.10,"kf":7.4,"ekf":7.3},{"t":2010.14,"kf":5.0,"ekf":4.9},{"t":2010.22,"kf":3.66,"ekf":3.6},{"t":2010.30,"kf":3.99,"ekf":3.9},{"t":2010.34,"kf":13.2,"ekf":13.3},{"t":2010.40,"kf":13.6,"ekf":13.9},{"t":2010.46,"kf":13.4,"ekf":13.8},{"t":2010.50,"kf":11.9,"ekf":12.1},{"t":2010.56,"kf":9.8,"ekf":9.8},{"t":2010.63,"kf":9.1,"ekf":9.0},{"t":2010.71,"kf":9.5,"ekf":9.3},{"t":2010.77,"kf":8.45,"ekf":8.3},{"t":2010.83,"kf":7.4,"ekf":7.2},{"t":2010.91,"kf":8.45,"ekf":8.3},{"t":2010.99,"kf":5.7,"ekf":5.5},{"t":2011.07,"kf":5.03,"ekf":4.9},{"t":2011.15,"kf":4.86,"ekf":4.7},{"t":2011.19,"kf":9.1,"ekf":8.9},{"t":2011.26,"kf":5.03,"ekf":4.9},{"t":2011.35,"kf":4.5,"ekf":4.4},{"t":2011.43,"kf":3.99,"ekf":3.9},{"t":2011.52,"kf":5.2,"ekf":5.1},{"t":2011.58,"kf":5.03,"ekf":4.9},{"t":2011.62,"kf":12.6,"ekf":12.8},{"t":2011.68,"kf":13.6,"ekf":14.2},{"t":2011.73,"kf":13.9,"ekf":14.8},{"t":2011.77,"kf":13.2,"ekf":13.6},{"t":2011.82,"kf":11.9,"ekf":12.0},{"t":2011.88,"kf":12.9,"ekf":13.0},{"t":2011.94,"kf":11.9,"ekf":11.9},{"t":2012.00,"kf":9.5,"ekf":9.4},{"t":2012.05,"kf":7.8,"ekf":7.6},{"t":2012.10,"kf":10.5,"ekf":10.4},{"t":2012.16,"kf":7.1,"ekf":6.9},{"t":2012.23,"kf":5.7,"ekf":5.5},{"t":2012.28,"kf":6.0,"ekf":5.8},{"t":2012.32,"kf":10.5,"ekf":10.4},{"t":2012.39,"kf":11.9,"ekf":11.8},{"t":2012.44,"kf":12.6,"ekf":12.5},{"t":2012.50,"kf":8.45,"ekf":8.3},{"t":2012.57,"kf":6.1,"ekf":6.0},{"t":2012.65,"kf":5.37,"ekf":5.2},{"t":2012.73,"kf":4.7,"ekf":4.6},{"t":2012.81,"kf":4.34,"ekf":4.2},{"t":2012.89,"kf":3.32,"ekf":3.2},{"t":2012.97,"kf":3.66,"ekf":3.5},{"t":2013.05,"kf":1.61,"ekf":1.55},{"t":2013.13,"kf":2.12,"ekf":2.05},{"t":2013.21,"kf":1.61,"ekf":1.55},{"t":2013.29,"kf":2.46,"ekf":2.4},{"t":2013.37,"kf":1.61,"ekf":1.55},{"t":2013.47,"kf":3.99,"ekf":3.9},{"t":2013.54,"kf":1.61,"ekf":1.55},{"t":2013.66,"kf":2.81,"ekf":2.7},{"t":2013.74,"kf":1.78,"ekf":1.7},{"t":2013.82,"kf":3.15,"ekf":3.0},{"t":2013.90,"kf":1.95,"ekf":1.9},{"t":2013.98,"kf":2.12,"ekf":2.05},{"t":2014.06,"kf":4.19,"ekf":4.1},{"t":2014.14,"kf":2.29,"ekf":2.2},{"t":2014.22,"kf":1.95,"ekf":1.9},{"t":2014.34,"kf":1.78,"ekf":1.7},{"t":2014.42,"kf":1.27,"ekf":1.2},{"t":2014.50,"kf":0.92,"ekf":0.9},{"t":2014.60,"kf":1.95,"ekf":1.9},{"t":2014.67,"kf":2.29,"ekf":2.2},{"t":2014.76,"kf":5.71,"ekf":5.6},{"t":2014.83,"kf":3.99,"ekf":3.9},{"t":2014.91,"kf":1.95,"ekf":1.9},{"t":2014.97,"kf":6.1,"ekf":6.0},{"t":2015.03,"kf":6.74,"ekf":6.6},{"t":2015.11,"kf":6.4,"ekf":6.3},{"t":2015.17,"kf":3.66,"ekf":3.5},{"t":2015.23,"kf":3.49,"ekf":3.4},{"t":2015.31,"kf":3.15,"ekf":3.0},{"t":2015.43,"kf":2.64,"ekf":2.55},{"t":2015.49,"kf":4.34,"ekf":4.2},{"t":2015.55,"kf":1.95,"ekf":1.9},{"t":2015.60,"kf":1.61,"ekf":1.55},{"t":2015.64,"kf":9.82,"ekf":9.7},{"t":2015.69,"kf":9.99,"ekf":9.9},{"t":2015.76,"kf":7.76,"ekf":7.6},{"t":2015.80,"kf":4.72,"ekf":4.6},{"t":2015.86,"kf":5.71,"ekf":5.6},{"t":2015.94,"kf":6.4,"ekf":6.3},{"t":2015.98,"kf":5.71,"ekf":5.6}
    ]
  },
  "vconcat": [
    {
      "width": 824,
      "height": 301,
      "title": "V₁,ₜ",
      "layer": [
        {
          "data": {"name": "p1"},
          "transform": [{"fold": ["ekf", "kf"], "as": ["series", "value"]}],
          "mark": {"type": "line", "strokeWidth": 5.5, "strokeJoin": "round", "strokeCap": "butt", "clip": true},
          "encoding": {
            "x": {"field": "t", "type": "quantitative", "scale": {"domain": [1996, 2016], "nice": false, "zero": false},
                  "axis": {"orient": "bottom", "title": null, "values": [2000, 2004, 2008, 2012], "format": "d", "grid": true, "gridColor": "#dfe2e8", "domainColor": "#262626", "tickColor": "#262626", "labelColor": "#262626", "labelPadding": 15}},
            "y": {"field": "value", "type": "quantitative", "scale": {"domain": [0, 1.071], "nice": false},
                  "axis": {"orient": "left", "title": null, "values": [0, 0.2, 0.4, 0.6, 0.8, 1], "format": "~g", "grid": true, "gridColor": "#e3eef8", "domainColor": "#0072BD", "tickColor": "#0072BD", "labelColor": "#0072BD"}},
            "color": {"field": "series", "type": "nominal", "scale": {"domain": ["ekf", "kf"], "range": ["#ff0000", "#000000"]}, "legend": null},
            "strokeDash": {"field": "series", "type": "nominal", "scale": {"domain": ["ekf", "kf"], "range": [[19, 19], [1, 0]]}, "legend": null}
          }
        },
        {
          "data": {"values": [{}]},
          "mark": {"type": "rule", "strokeOpacity": 0},
          "encoding": {
            "y": {"datum": 0, "type": "quantitative", "scale": {"domain": [0, 0.924], "nice": false},
                  "axis": {"orient": "right", "title": null, "values": [0, 0.2, 0.4, 0.6, 0.8], "format": "~g", "grid": false, "domainColor": "#D95319", "tickColor": "#D95319", "labelColor": "#D95319"}}
          }
        },
        {
          "data": {"values": [{}]},
          "mark": {"type": "rule", "strokeOpacity": 0},
          "encoding": {
            "x": {"datum": 2000, "type": "quantitative", "scale": {"domain": [1996, 2016], "nice": false, "zero": false},
                  "axis": {"orient": "top", "title": null, "values": [2000, 2004, 2008, 2012], "labels": false, "grid": false, "domainColor": "#262626", "tickColor": "#262626"}}
          }
        }
      ],
      "resolve": {"scale": {"y": "independent"}, "axis": {"x": "independent", "y": "independent"}}
    },
    {
      "width": 824,
      "height": 301,
      "title": "V₂,ₜ",
      "layer": [
        {
          "data": {"name": "p2"},
          "transform": [{"fold": ["ekf", "kf"], "as": ["series", "value"]}],
          "mark": {"type": "line", "strokeWidth": 5.5, "strokeJoin": "round", "strokeCap": "butt", "clip": true},
          "encoding": {
            "x": {"field": "t", "type": "quantitative", "scale": {"domain": [1996, 2016], "nice": false, "zero": false},
                  "axis": {"orient": "bottom", "title": null, "values": [2000, 2004, 2008, 2012], "format": "d", "grid": true, "gridColor": "#dfe2e8", "domainColor": "#262626", "tickColor": "#262626", "labelColor": "#262626", "labelPadding": 15}},
            "y": {"field": "value", "type": "quantitative", "scale": {"domain": [0, 0.002264], "nice": false},
                  "axis": {"orient": "left", "title": "×10⁻³", "titleAngle": 0, "titleAlign": "left", "titleBaseline": "alphabetic", "titleX": 2, "titleY": -5, "titleColor": "#0072BD", "values": [0, 0.0005, 0.001, 0.0015, 0.002], "labelExpr": "format(datum.value * 1000, '~g')", "grid": true, "gridColor": "#e3eef8", "domainColor": "#0072BD", "tickColor": "#0072BD", "labelColor": "#0072BD"}},
            "color": {"field": "series", "type": "nominal", "scale": {"domain": ["ekf", "kf"], "range": ["#ff0000", "#000000"]}, "legend": null},
            "strokeDash": {"field": "series", "type": "nominal", "scale": {"domain": ["ekf", "kf"], "range": [[19, 19], [1, 0]]}, "legend": null}
          }
        },
        {
          "data": {"values": [{}]},
          "mark": {"type": "rule", "strokeOpacity": 0},
          "encoding": {
            "y": {"datum": 0, "type": "quantitative", "scale": {"domain": [0, 0.00211], "nice": false},
                  "axis": {"orient": "right", "title": "×10⁻³", "titleAngle": 0, "titleAlign": "left", "titleBaseline": "alphabetic", "titleX": 3, "titleY": -9, "titleColor": "#D95319", "values": [0, 0.0005, 0.001, 0.0015, 0.002], "labelExpr": "format(datum.value * 1000, '~g')", "grid": false, "domainColor": "#D95319", "tickColor": "#D95319", "labelColor": "#D95319"}}
          }
        },
        {
          "data": {"values": [{}]},
          "mark": {"type": "rule", "strokeOpacity": 0},
          "encoding": {
            "x": {"datum": 2000, "type": "quantitative", "scale": {"domain": [1996, 2016], "nice": false, "zero": false},
                  "axis": {"orient": "top", "title": null, "values": [2000, 2004, 2008, 2012], "labels": false, "grid": false, "domainColor": "#262626", "tickColor": "#262626"}}
          }
        }
      ],
      "resolve": {"scale": {"y": "independent"}, "axis": {"x": "independent", "y": "independent"}}
    },
    {
      "width": 824,
      "height": 301,
      "title": "V₃,ₜ",
      "layer": [
        {
          "data": {"name": "p3"},
          "transform": [{"fold": ["ekf", "kf"], "as": ["series", "value"]}],
          "mark": {"type": "line", "strokeWidth": 5.5, "strokeJoin": "round", "strokeCap": "butt", "clip": true},
          "encoding": {
            "x": {"field": "t", "type": "quantitative", "scale": {"domain": [1996, 2016], "nice": false, "zero": false},
                  "axis": {"orient": "bottom", "title": null, "values": [2000, 2004, 2008, 2012], "format": "d", "grid": true, "gridColor": "#dfe2e8", "domainColor": "#262626", "tickColor": "#262626", "labelColor": "#262626", "labelPadding": 15}},
            "y": {"field": "value", "type": "quantitative", "scale": {"domain": [0, 30.93], "nice": false},
                  "axis": {"orient": "left", "title": null, "values": [0, 5, 10, 15, 20, 25, 30], "grid": true, "gridColor": "#e3eef8", "domainColor": "#0072BD", "tickColor": "#0072BD", "labelColor": "#0072BD"}},
            "color": {"field": "series", "type": "nominal", "scale": {"domain": ["ekf", "kf"], "range": ["#ff0000", "#000000"]},
                      "legend": {"title": null, "orient": "none", "legendX": 21, "legendY": 17, "direction": "horizontal", "symbolType": "M-1,0H14.6", "symbolSize": 100, "symbolStrokeWidth": 5, "labelFontSize": 15, "labelColor": "#000000", "labelOffset": 71, "columnPadding": -3, "padding": 5, "strokeColor": "#262626", "fillColor": "#ffffff", "labelExpr": "datum.label == 'ekf' ? 'E-KF' : 'KF'"}},
            "strokeDash": {"field": "series", "type": "nominal", "scale": {"domain": ["ekf", "kf"], "range": [[19, 19], [1, 0]]},
                      "legend": {"title": null, "orient": "none", "legendX": 21, "legendY": 17, "direction": "horizontal", "symbolType": "M-1,0H14.6", "symbolSize": 100, "symbolStrokeWidth": 5, "labelFontSize": 15, "labelColor": "#000000", "labelOffset": 71, "columnPadding": -3, "padding": 5, "strokeColor": "#262626", "fillColor": "#ffffff", "labelExpr": "datum.label == 'ekf' ? 'E-KF' : 'KF'"}}
          }
        },
        {
          "data": {"values": [{}]},
          "mark": {"type": "rule", "strokeOpacity": 0},
          "encoding": {
            "y": {"datum": 0, "type": "quantitative", "scale": {"domain": [0, 27.3], "nice": false},
                  "axis": {"orient": "right", "title": null, "values": [0, 5, 10, 15, 20, 25], "grid": false, "domainColor": "#D95319", "tickColor": "#D95319", "labelColor": "#D95319"}}
          }
        },
        {
          "data": {"values": [{}]},
          "mark": {"type": "rule", "strokeOpacity": 0},
          "encoding": {
            "x": {"datum": 2000, "type": "quantitative", "scale": {"domain": [1996, 2016], "nice": false, "zero": false},
                  "axis": {"orient": "top", "title": null, "values": [2000, 2004, 2008, 2012], "labels": false, "grid": false, "domainColor": "#262626", "tickColor": "#262626"}}
          }
        }
      ],
      "resolve": {"scale": {"y": "independent"}, "axis": {"x": "independent", "y": "independent"}}
    }
  ],
  "resolve": {"scale": {"color": "independent", "strokeDash": "independent"}, "legend": {"color": "independent", "strokeDash": "independent"}}
}
